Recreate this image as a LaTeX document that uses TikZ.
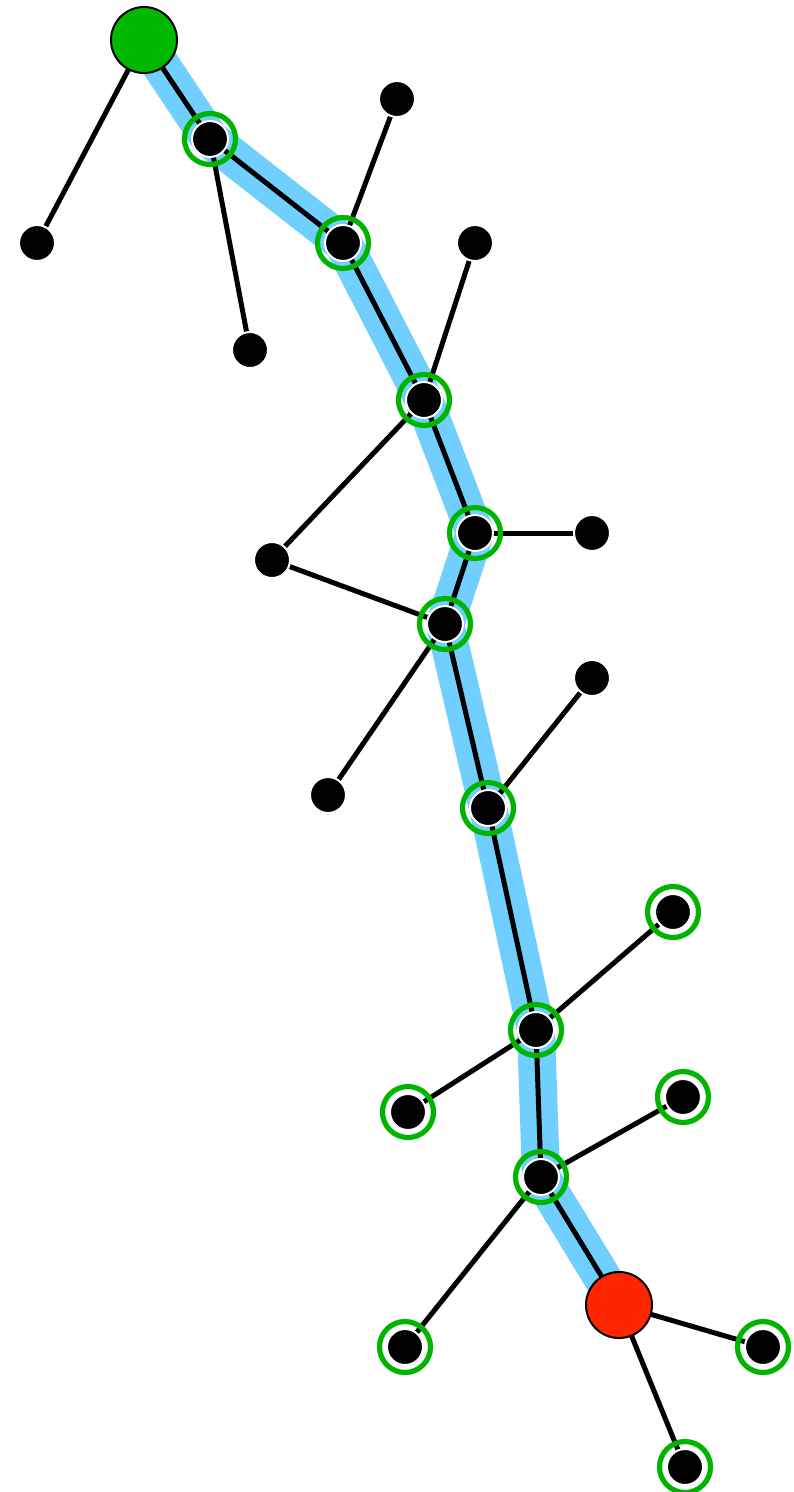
\documentclass[tikz,border=0pt]{standalone}
\definecolor{pathblue}{RGB}{112,207,255}
\definecolor{ringgreen}{RGB}{0,180,0}
\definecolor{startgreen}{RGB}{0,184,0}
\definecolor{endred}{RGB}{255,38,0}
\tikzset{
  dot/.style={circle,fill=black,draw=white,line width=2pt,minimum size=36pt,inner sep=0pt},
  ring/.style={circle,draw=ringgreen,line width=5.2pt,minimum size=51pt,inner sep=0pt},
  startnode/.style={circle,fill=startgreen,draw=black,line width=2pt,minimum size=66pt,inner sep=0pt},
  endnode/.style={circle,fill=endred,draw=black,line width=2pt,minimum size=66pt,inner sep=0pt},
  edge/.style={line width=5pt,black},
  route/.style={line width=38pt,pathblue,line join=round,line cap=round}
}
\begin{document}
\begin{tikzpicture}[x=1pt,y=-1pt]
\useasboundingbox (0,0) rectangle (794,1492);
% coordinates
\coordinate (s) at (144,40);
\coordinate (a) at (210,139);
\coordinate (b) at (343,243);
\coordinate (c) at (424,400);
\coordinate (d) at (475,533);
\coordinate (e) at (445,624);
\coordinate (f) at (488,808);
\coordinate (g) at (536,1030);
\coordinate (h) at (541,1177);
\coordinate (t) at (619,1305);
\coordinate (l1) at (37,243);
\coordinate (l2) at (397,99);
\coordinate (l3) at (250,350);
\coordinate (l4) at (475,243);
\coordinate (l5) at (272,560);
\coordinate (l6) at (592,533);
\coordinate (l7) at (328,795);
\coordinate (l8) at (592,678);
\coordinate (r1) at (673,912);
\coordinate (r2) at (408,1112);
\coordinate (r3) at (683,1097);
\coordinate (r4) at (405,1347);
\coordinate (r5) at (763,1347);
\coordinate (r6) at (685,1467);
% highlighted route
\draw[route] (s) -- (a) -- (b) -- (c) -- (d) -- (e) -- (f) -- (g) -- (h) -- (t);
% edges
\draw[edge] (s) -- (a) -- (b) -- (c) -- (d) -- (e) -- (f) -- (g) -- (h) -- (t);
\draw[edge] (s) -- (l1);
\draw[edge] (b) -- (l2);
\draw[edge] (a) -- (l3);
\draw[edge] (c) -- (l4);
\draw[edge] (c) -- (l5) -- (e);
\draw[edge] (d) -- (l6);
\draw[edge] (e) -- (l7);
\draw[edge] (f) -- (l8);
\draw[edge] (g) -- (r1);
\draw[edge] (g) -- (r2);
\draw[edge] (h) -- (r3);
\draw[edge] (h) -- (r4);
\draw[edge] (t) -- (r5);
\draw[edge] (t) -- (r6);
% rings
\foreach \p in {a,b,c,d,e,f,g,h,r1,r2,r3,r4,r5,r6}
  \node[ring] (ring-\p) at (\p) {};
% dots
\foreach \p in {a,b,c,d,e,f,g,h,l1,l2,l3,l4,l5,l6,l7,l8,r1,r2,r3,r4,r5,r6}
  \node[dot] (dot-\p) at (\p) {};
\node[startnode] (start) at (s) {};
\node[endnode] (end) at (t) {};
\end{tikzpicture}
\end{document}
